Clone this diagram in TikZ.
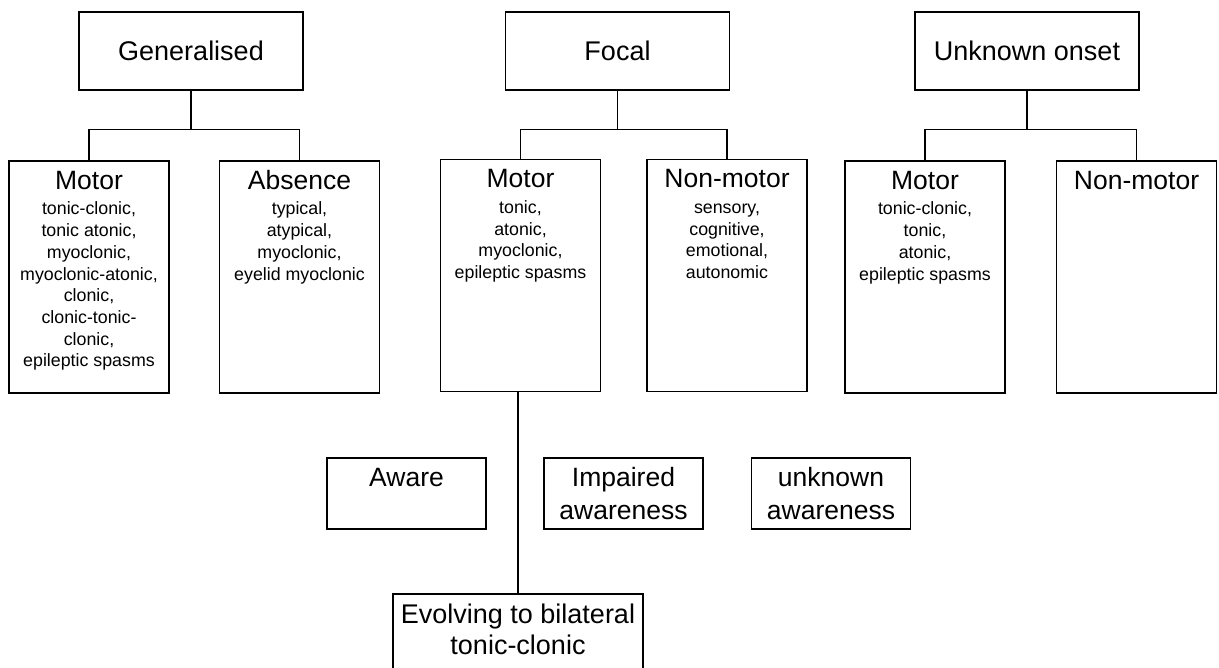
\documentclass[tikz,border=0pt]{standalone}
\usepackage{fontspec}
\setmainfont{Liberation Sans}
\usetikzlibrary{positioning}

\begin{document}
\begin{tikzpicture}[x=1pt, y=-1pt, line width=1.3pt]
  \useasboundingbox (0,0) rectangle (1219,668);
  \clip (0,0) rectangle (1219,668);

  % ---- Styles -------------------------------------------------
  \tikzstyle{onsetbox}=[draw, minimum width=224pt, minimum height=78pt,
                        inner sep=0pt, font=\fontsize{27}{32}\selectfont]
  \tikzstyle{typebox}=[draw, minimum width=160pt, minimum height=232pt]
  \tikzstyle{awarebox}=[draw, minimum width=159pt, minimum height=71pt]
  \tikzstyle{typehead}=[anchor=base, inner sep=0pt, yshift=-29pt,
                        font=\fontsize{26.5}{30}\selectfont]
  \tikzstyle{typelist}=[anchor=north, align=center, inner sep=0pt,
                        yshift=-9.8pt, font=\fontsize{17.8}{21.7}\selectfont]
  \tikzstyle{awaretext}=[anchor=north, align=center, inner sep=0pt,
                         font=\fontsize{26.5}{33}\selectfont]

  % ---- Onset boxes --------------------------------------------
  \node[onsetbox] (gen) at (191,51)   {Generalised};
  \node[onsetbox] (foc) at (617.5,51) {Focal};
  \node[onsetbox] (unk) at (1027,51)  {Unknown onset};

  % ---- Seizure type boxes -------------------------------------
  \node[typebox] (gmotor) at (89,277)      {};
  \node[typebox] (gabs)   at (299.5,277)   {};
  \node[typebox] (fmotor) at (520.5,275.5) {};
  \node[typebox] (fnon)   at (727,275.5)   {};
  \node[typebox] (umotor) at (925,277)     {};
  \node[typebox] (unon)   at (1136.5,277)  {};

  % ---- Headings and lists inside the type boxes ---------------
  \node[typehead] (gmotor-h) at (gmotor.north) {Motor};
  \node[typehead] (gabs-h)   at (gabs.north)   {Absence};
  \node[typehead] (fmotor-h) at (fmotor.north) {Motor};
  \node[typehead] (fnon-h)   at (fnon.north)   {Non-motor};
  \node[typehead] (umotor-h) at (umotor.north) {Motor};
  \node[typehead] (unon-h)   at (unon.north)   {Non-motor};

  \node[typelist] (gmotor-l) at (gmotor-h.base)
    {\strut tonic-clonic,\\ tonic atonic,\\ myoclonic,\\ myoclonic-atonic,\\
     clonic,\\ clonic-tonic-\\ clonic,\\ epileptic spasms};
  \node[typelist] (gabs-l) at (gabs-h.base)
    {\strut typical,\\ atypical,\\ myoclonic,\\ eyelid myoclonic};
  \node[typelist] (fmotor-l) at (fmotor-h.base)
    {\strut tonic,\\ atonic,\\ myoclonic,\\ epileptic spasms};
  \node[typelist] (fnon-l) at (fnon-h.base)
    {\strut sensory,\\ cognitive,\\ emotional,\\ autonomic};
  \node[typelist] (umotor-l) at (umotor-h.base)
    {\strut tonic-clonic,\\ tonic,\\ atonic,\\ epileptic spasms};

  % ---- Awareness boxes ----------------------------------------
  \node[awarebox] (aware)    at (406.5,493.5) {};
  \node[awarebox] (impaired) at (623.5,493.5) {};
  \node[awarebox] (unaware)  at (831,493.5)   {};
  \node[draw, minimum width=250pt, minimum height=90pt] (evolve) at (518,639) {};

  \node[awaretext, yshift=-4.9pt] (aware-t)    at (aware.north)    {\strut Aware};
  \node[awaretext, yshift=-4.9pt] (impaired-t) at (impaired.north) {\strut Impaired\\ awareness};
  \node[awaretext, yshift=-4.9pt] (unaware-t)  at (unaware.north)  {\strut unknown\\ awareness};
  \node[awaretext, yshift=-7.3pt, font=\fontsize{27}{31}\selectfont] (evolve-t) at (evolve.north)
    {\strut Evolving to bilateral\\ tonic-clonic};

  % ---- Connectors ---------------------------------------------
  \coordinate[below=39pt of gen.south] (genfork);
  \coordinate[below=39pt of foc.south] (focfork);
  \coordinate[below=39pt of unk.south] (unkfork);

  \draw (gen.south) -- (genfork);
  \draw (gmotor.north) |- (genfork) -| (gabs.north);
  \draw (foc.south) -- (focfork);
  \draw (fmotor.north) |- (focfork) -| (fnon.north);
  \draw (unk.south) -- (unkfork);
  \draw (umotor.north) |- (unkfork) -| (unon.north);

  \draw (evolve.north) -- (evolve.north |- fmotor.south);

\end{tikzpicture}
\end{document}
